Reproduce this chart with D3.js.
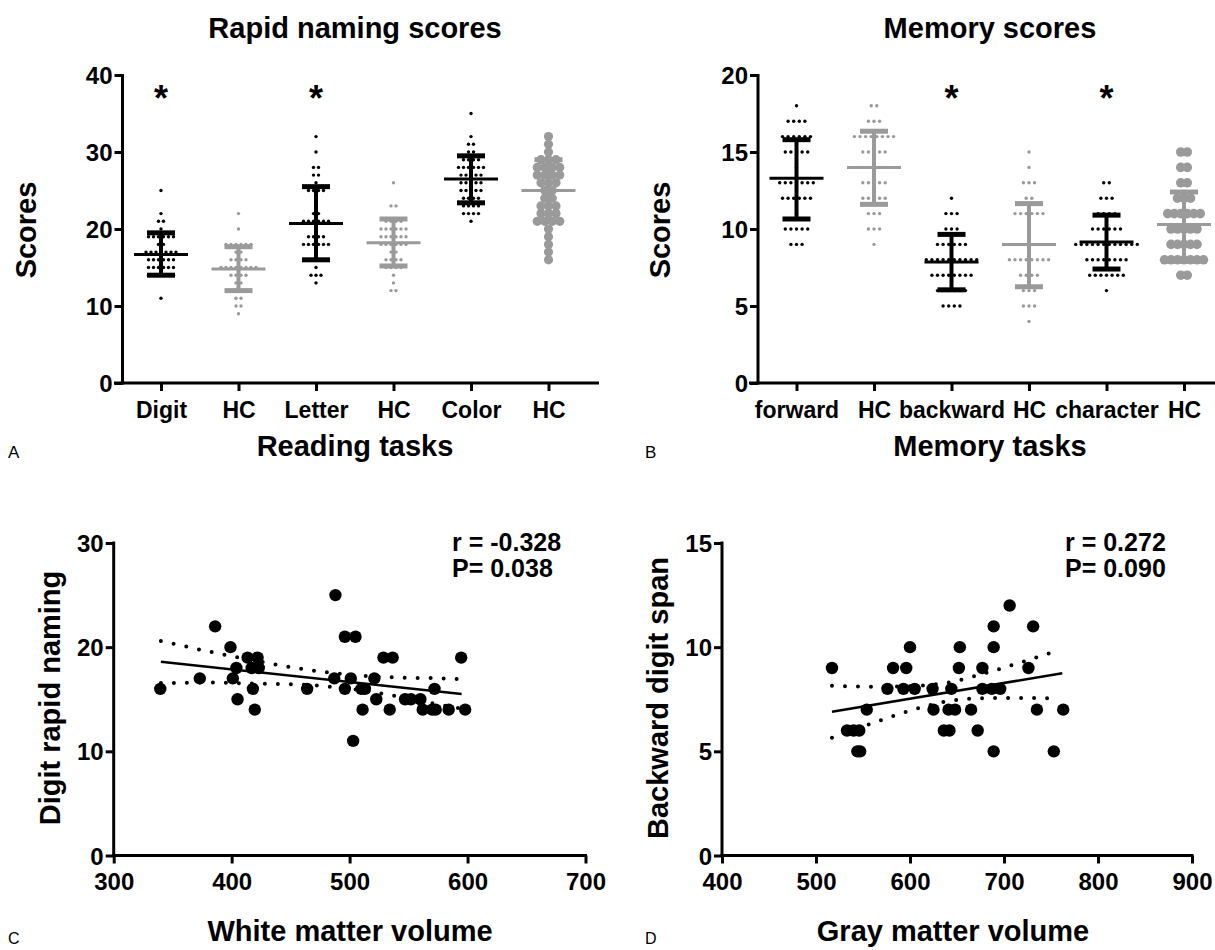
<!DOCTYPE html>
<html><head><meta charset="utf-8">
<script src="https://cdn.jsdelivr.net/npm/d3@7"></script>
<style>
body{margin:0;background:#fff}
svg{display:block}
text{font-family:"Liberation Sans",Arial,Helvetica,sans-serif;font-weight:bold;fill:#000}
</style>
</head><body>
<svg id="chart" width="1215" height="950"></svg>
<script>
// ---------- Panel A: rapid naming ----------
const namingCats = ["Digit", "HC", "Letter", "HC", "Color", "HC"];
const namingPatient = [true, false, true, false, true, false];
const namingDigit   = [[25,1],[22,1],[21,2],[20,1],[19,6],[18,2],[17,7],[16,6],[15,6],[14,6],[11,1]];
const namingDigitHC = [[22,1],[20,1],[18,6],[17,2],[16,4],[15,8],[14,4],[13,2],[12,4],[11,2],[10,2],[9,1]];
const namingLetter  = [[32,1],[30,1],[28,2],[27,2],[26,1],[25,4],[22,2],[21,6],[19,4],[18,6],[17,1],[16,4],[15,1],[14,3],[13,1]];
const namingLetterHC= [[26,1],[23,2],[21,4],[20,6],[19,6],[18,6],[17,2],[16,4],[15,4],[14,1],[13,1],[12,2]];
const namingColor   = [[35,1],[32,1],[31,2],[30,2],[29,4],[28,6],[27,5],[26,5],[25,5],[24,4],[23,4],[22,4],[21,1]];
const namingColorHC = [[32,1],[31,1],[30,1],[29,3],[28,4],[27,4],[26,3],[25,2],[24,2],[23,3],[22,3],[21,4],[20,1],[19,1],[18,1],[17,1],[16,1]];
const namingMean = [16.7, 14.8, 20.7, 18.2, 26.5, 25.0];
const namingLow  = [14.0, 12.0, 16.0, 15.2, 23.4, 21.0];
const namingHigh = [19.5, 17.7, 25.5, 21.3, 29.5, 29.0];
const namingTicks = [0, 10, 20, 30, 40];
const namingStars = ["Digit", "Letter"];

// ---------- Panel B: memory ----------
const memoryCats = ["forward", "HC", "backward", "HC", "character", "HC"];
const memoryForward    = [[18,1],[17,4],[16,6],[15,5],[14,1],[13,7],[12,6],[11,1],[10,5],[9,3]];
const memoryForwardHC  = [[18,2],[17,3],[16,8],[15,5],[14,5],[13,5],[12,5],[11,3],[10,3],[9,1]];
const memoryBackward   = [[12,1],[11,3],[10,3],[9,6],[8,10],[7,8],[6,6],[5,4]];
const memoryBackwardHC = [[15,1],[14,1],[13,3],[12,2],[11,6],[10,1],[9,1],[8,8],[7,4],[6,3],[5,3],[4,1]];
const memoryChar       = [[13,2],[12,3],[11,4],[10,6],[9,12],[8,8],[7,7],[6,1]];
const memoryCharHC     = [[15,2],[14,2],[13,2],[12,3],[11,6],[10,5],[9,5],[8,7],[7,2]];
const memoryMean = [13.3, 14.0, 7.85, 9.0, 9.15, 10.3];
const memoryLow  = [10.65, 11.6, 6.05, 6.25, 7.4, 8.0];
const memoryHigh = [15.8, 16.35, 9.65, 11.65, 10.9, 12.4];
const memoryTicks = [0, 5, 10, 15, 20];
const memoryStarIdx = [2, 4];

// ---------- Panel C: white matter vs digit rapid naming ----------
const whiteX = [339.5,373,386,399,401,405,404,413.5,422,417,423,418,419.6,464,487,488,496,496,505,501,503,510,511,513,521,522.6,528.7,536.5,534,547,552,560,562,572,570,573,584,594.6,598];
const whiteY = [16,17,22,20,17,15,18,19,19,18,18,16,14,16,17,25,16,21,21,17,11,16,14,16,17,15,19,19,14,15,15,15,14,16,14,14,14,19,14];
const whiteFitX = [340, 595];
const whiteFitY = [18.6, 15.5];
const whiteBandX  = [340, 380, 420, 460, 500, 540, 580, 592];
const whiteBandHi = [20.6, 19.6, 18.7, 17.9, 17.35, 17.1, 17.0, 16.95];
const whiteBandLo = [16.55, 16.6, 16.5, 16.4, 16.0, 15.3, 14.4, 14.15];
const whiteXTicks = [300, 400, 500, 600, 700];
const whiteYTicks = [0, 10, 20, 30];

// ---------- Panel D: gray matter vs backward digit span ----------
const grayX = [517,533,540,546,544,547,554,576,582,596,593,600,605,624,625,636,642,641,644,648,652,653,665,672,677,677,689,689,689,687,696,706,726,731,735,753,763];
const grayY = [9,6,6,6,5,5,7,8,9,9,8,10,8,8,7,6,6,7,8,7,9,10,7,6,9,8,10,11,5,8,8,12,9,11,7,5,7];
const grayFitX = [517, 762];
const grayFitY = [6.9, 8.75];
const grayBandX  = [517, 560, 600, 640, 680, 720, 755];
const grayBandHi = [8.15, 8.1, 8.13, 8.3, 8.75, 9.3, 9.8];
const grayBandLo = [5.65, 6.35, 6.95, 7.4, 7.55, 7.56, 7.55];
const grayXTicks = [400, 500, 600, 700, 800, 900];
const grayYTicks = [0, 5, 10, 15];

const BLACK = "#000";
const GRAY = "#9a9a9a";
const svg = d3.select("#chart");

function styleAxis(g, fontSize) {
  g.select(".domain").remove();
  g.selectAll(".tick line").attr("stroke", BLACK).attr("stroke-width", 3);
  g.selectAll(".tick text").attr("font-size", fontSize).attr("fill", BLACK)
    .style("font-family", '"Liberation Sans",Arial,sans-serif').style("font-weight", "bold");
}

function hline(x1, x2, y, w, color) {
  svg.append("line").attr("x1", x1).attr("x2", x2).attr("y1", y).attr("y2", y)
    .attr("stroke", color || BLACK).attr("stroke-width", w);
}
function vline(x, y1, y2, w, color) {
  svg.append("line").attr("x1", x).attr("x2", x).attr("y1", y1).attr("y2", y2)
    .attr("stroke", color || BLACK).attr("stroke-width", w);
}

function dotGroup(xc, y, counts, r, spacing, color) {
  const pts = [];
  counts.forEach(([v, n]) => { for (let i = 0; i < n; i++) pts.push({v, off: (i - (n - 1) / 2) * spacing}); });
  svg.append("g").selectAll("circle").data(pts).join("circle")
    .attr("cx", d => xc + d.off).attr("cy", d => y(d.v)).attr("r", r).attr("fill", color);
}

function errBar(xc, y, mean, lo, hi, color) {
  vline(xc, y(hi), y(lo), 4, color);
  hline(xc - 14, xc + 14, y(hi), 5, color);
  hline(xc - 14, xc + 14, y(lo), 5, color);
  hline(xc - 27, xc + 27, y(mean), 3, color);
}

function label(x, y, txt, size, anchor, rot, weight) {
  const t = svg.append("text").attr("font-size", size).attr("text-anchor", anchor || "middle").text(txt);
  if (weight) t.style("font-weight", weight);
  if (rot) t.attr("transform", `translate(${x},${y}) rotate(${rot})`);
  else t.attr("x", x).attr("y", y);
  return t;
}

// ================= Panel A =================
{
  const x = d3.scalePoint().domain(d3.range(namingCats.length)).range([161, 548.5]);
  const y = d3.scaleLinear().domain([0, 40]).range([383, 75]);
  const groups = [namingDigit, namingDigitHC, namingLetter, namingLetterHC, namingColor, namingColorHC];
  groups.forEach((g, i) => {
    const col = namingPatient[i] ? BLACK : GRAY;
    if (i === 5) dotGroup(x(i), y, g, 4.6, 7.5, col);
    else dotGroup(x(i), y, g, 1.7, 5, col);
  });
  groups.forEach((g, i) => {
    const col = namingPatient[i] ? BLACK : GRAY;
    errBar(x(i), y, namingMean[i], namingLow[i], namingHigh[i], col);
  });
  vline(122.5, 74, 384.5, 3);
  hline(114, 599, 383, 3);
  const ya = svg.append("g").attr("transform", "translate(122.5,0)")
    .call(d3.axisLeft(y).tickValues(namingTicks).tickSize(8).tickPadding(2).tickFormat(d3.format("d")));
  styleAxis(ya, 24);
  ya.selectAll(".tick text").attr("dy", "0.36em");
  const xa = svg.append("g").attr("transform", "translate(0,383)")
    .call(d3.axisBottom(x).tickSize(8).tickPadding(11).tickFormat(i => namingCats[i]));
  styleAxis(xa, 23);
  namingStars.forEach(s => label(x(namingCats.indexOf(s)), 111, "*", 36));
  label(355, 38, "Rapid naming scores", 29);
  label(36, 230, "Scores", 29, "middle", -90);
  label(355, 456, "Reading tasks", 29);
  label(8, 458, "A", 17, "start", 0, "normal");
}

// ================= Panel B =================
{
  const x = d3.scalePoint().domain(d3.range(memoryCats.length)).range([796.5, 1184]);
  const y = d3.scaleLinear().domain([0, 20]).range([383, 75]);
  const groups = [memoryForward, memoryForwardHC, memoryBackward, memoryBackwardHC, memoryChar, memoryCharHC];
  groups.forEach((g, i) => {
    const col = i % 2 === 0 ? BLACK : GRAY;
    if (i === 5) dotGroup(x(i), y, g, 4.8, 6.5, col);
    else dotGroup(x(i), y, g, 1.7, 5.6, col);
  });
  groups.forEach((g, i) => {
    const col = i % 2 === 0 ? BLACK : GRAY;
    errBar(x(i), y, memoryMean[i], memoryLow[i], memoryHigh[i], col);
  });
  vline(758, 74, 384.5, 3);
  hline(749, 1215, 383, 3);
  const ya = svg.append("g").attr("transform", "translate(758,0)")
    .call(d3.axisLeft(y).tickValues(memoryTicks).tickSize(8).tickPadding(2).tickFormat(d3.format("d")));
  styleAxis(ya, 24);
  ya.selectAll(".tick text").attr("dy", "0.36em");
  const xa = svg.append("g").attr("transform", "translate(0,383)")
    .call(d3.axisBottom(x).tickSize(8).tickPadding(11).tickFormat(i => memoryCats[i]));
  styleAxis(xa, 23);
  memoryStarIdx.forEach(i => label(x(i), 111, "*", 36));
  label(990, 38, "Memory scores", 29);
  label(670, 230, "Scores", 29, "middle", -90);
  label(990, 456, "Memory tasks", 29);
  label(645, 458, "B", 17, "start", 0, "normal");
}

// ================= scatter helper =================
function scatterPanel(o) {
  const x = d3.scaleLinear().domain(o.xDomain).range(o.xRange);
  const y = d3.scaleLinear().domain(o.yDomain).range([855.5, 543]);
  const pts = o.xs.map((v, i) => ({x: v, y: o.ys[i]}));
  svg.append("g").selectAll("circle").data(pts).join("circle")
    .attr("cx", d => x(d.x)).attr("cy", d => y(d.y)).attr("r", 6.2).attr("fill", BLACK);
  const ln = d3.line().x(d => x(d[0])).y(d => y(d[1]));
  svg.append("path").attr("d", ln(o.fitX.map((v, i) => [v, o.fitY[i]])))
    .attr("stroke", BLACK).attr("stroke-width", 2.5).attr("fill", "none");
  const cl = d3.line().curve(d3.curveMonotoneX).x(d => x(d[0])).y(d => y(d[1]));
  [o.hi, o.lo].forEach(arr => {
    svg.append("path").attr("d", cl(o.bandX.map((v, i) => [v, arr[i]])))
      .attr("stroke", BLACK).attr("stroke-width", 4).attr("fill", "none")
      .attr("stroke-linecap", "round").attr("stroke-dasharray", "0,13");
  });
  const x0 = o.xRange[0];
  vline(x0, 541.5, 857, 3);
  hline(x0 - 1.5, o.xRange[1] + 1.5, 855.5, 3);
  const ya = svg.append("g").attr("transform", `translate(${x0},0)`)
    .call(d3.axisLeft(y).tickValues(o.yTicks).tickSize(8).tickPadding(2).tickFormat(d3.format("d")));
  styleAxis(ya, 24);
  ya.selectAll(".tick text").attr("dy", "0.36em");
  const xa = svg.append("g").attr("transform", "translate(0,855.5)")
    .call(d3.axisBottom(x).tickValues(o.xTicks).tickSize(8).tickPadding(9).tickFormat(d3.format("d")));
  styleAxis(xa, 24);
  label(o.statX, 551, o.r, 25, "start");
  label(o.statX, 577, o.p, 25, "start");
  label(o.ylabX, 698, o.ylab, 29, "middle", -90);
  label(o.xlabX, 941, o.xlab, 29);
  label(o.letterX, 944, o.letter, 16, "start", 0, "normal");
}

scatterPanel({
  xDomain: [300, 700], xRange: [113.7, 585.5], yDomain: [0, 30],
  xs: whiteX, ys: whiteY, fitX: whiteFitX, fitY: whiteFitY,
  bandX: whiteBandX, hi: whiteBandHi, lo: whiteBandLo,
  xTicks: whiteXTicks, yTicks: whiteYTicks,
  statX: 452, r: "r = -0.328", p: "P= 0.038",
  ylabX: 60, ylab: "Digit rapid naming", xlabX: 350, xlab: "White matter volume",
  letterX: 8, letter: "C"
});

scatterPanel({
  xDomain: [400, 900], xRange: [722, 1192], yDomain: [0, 15],
  xs: grayX, ys: grayY, fitX: grayFitX, fitY: grayFitY,
  bandX: grayBandX, hi: grayBandHi, lo: grayBandLo,
  xTicks: grayXTicks, yTicks: grayYTicks,
  statX: 1065, r: "r = 0.272", p: "P= 0.090",
  ylabX: 668, ylab: "Backward digit span", xlabX: 953, xlab: "Gray matter volume",
  letterX: 645, letter: "D"
});
</script>
</body></html>
